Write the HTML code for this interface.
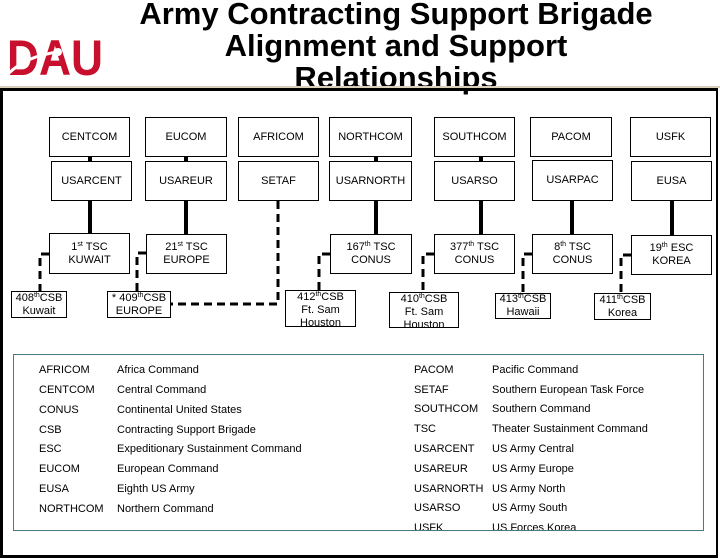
<!DOCTYPE html>
<html><head><meta charset="utf-8"><style>
*{margin:0;padding:0;box-sizing:border-box}
body{width:720px;height:540px;overflow:hidden;background:#fff;position:relative;font-family:"Liberation Sans",Arial,sans-serif}
.t{position:absolute;left:96px;width:600px;text-align:center;font-size:31px;font-weight:bold;line-height:32px;color:#000;white-space:nowrap}
.b{position:absolute;border:1px solid #000;background:#fff;display:flex;align-items:center;justify-content:center;text-align:center;font-size:11px;line-height:13px;color:#000}
.s{position:absolute;background:#000}
.l{position:absolute;font-size:11px;color:#000;line-height:13px}
sup{font-size:7px;vertical-align:top;line-height:7px}
</style></head><body>
<div class="t" style="top:-2px">Army Contracting Support Brigade</div>
<div class="t" style="top:30px">Alignment and Support</div>
<div class="t" style="top:62px">Relationships</div>
<svg style="position:absolute;left:6px;top:36px" width="100" height="42">
<text x="1" y="39" font-family="Liberation Sans" font-weight="bold" font-size="50" fill="#c8102e" textLength="96" lengthAdjust="spacingAndGlyphs">DAU</text>
<path d="M2 38 Q20 20 52 16" stroke="#fff" stroke-width="3" fill="none"/>
<circle cx="52" cy="16" r="4" fill="#fff"/>
</svg>
<div style="position:absolute;left:0;top:86px;width:720px;height:2px;background:#d8d0b8"></div>
<div style="position:absolute;left:0;top:88px;width:718px;height:470px;border:3px solid #000;border-right-width:2px"></div>

<svg style="position:absolute;left:0;top:0" width="720" height="540">
<g stroke="#000" stroke-width="4" fill="none">
<line x1="90" y1="157" x2="90" y2="161"/><line x1="186" y1="157" x2="186" y2="161"/>
<line x1="376" y1="157" x2="376" y2="161"/><line x1="481" y1="157" x2="481" y2="161"/>
<line x1="90" y1="201" x2="90" y2="234"/><line x1="186" y1="201" x2="186" y2="234"/>
<line x1="376" y1="201" x2="376" y2="234"/><line x1="481" y1="201" x2="481" y2="234"/>
<line x1="572" y1="201" x2="572" y2="234"/><line x1="672" y1="201" x2="672" y2="235"/>
</g>
<g stroke="#000" stroke-width="3" fill="none" stroke-dasharray="8,5">
<polyline points="49,254 40,254 40,291"/>
<polyline points="146,253 137,253 137,291"/>
<polyline points="278,201 278,304 171,304"/>
<polyline points="330,254 319,254 319,290"/>
<polyline points="434,254 423,254 423,292"/>
<polyline points="532,254 523,254 523,293"/>
<polyline points="631,255 621,255 621,293"/>
</g>
</svg>

<div class="b" style="left:49px;top:117px;width:81px;height:40px"><span>CENTCOM</span></div>
<div class="b" style="left:145px;top:117px;width:82px;height:40px"><span>EUCOM</span></div>
<div class="b" style="left:238px;top:117px;width:81px;height:40px"><span>AFRICOM</span></div>
<div class="b" style="left:329px;top:117px;width:83px;height:40px"><span>NORTHCOM</span></div>
<div class="b" style="left:434px;top:117px;width:81px;height:40px"><span>SOUTHCOM</span></div>
<div class="b" style="left:530px;top:117px;width:82px;height:40px"><span>PACOM</span></div>
<div class="b" style="left:630px;top:117px;width:81px;height:40px"><span>USFK</span></div>

<div class="b" style="left:51px;top:161px;width:81px;height:40px"><span>USARCENT</span></div>
<div class="b" style="left:145px;top:161px;width:82px;height:40px"><span>USAREUR</span></div>
<div class="b" style="left:238px;top:161px;width:81px;height:40px"><span>SETAF</span></div>
<div class="b" style="left:329px;top:161px;width:83px;height:40px"><span>USARNORTH</span></div>
<div class="b" style="left:434px;top:161px;width:81px;height:40px"><span>USARSO</span></div>
<div class="b" style="left:532px;top:160px;width:81px;height:41px"><span>USARPAC</span></div>
<div class="b" style="left:631px;top:161px;width:81px;height:40px"><span>EUSA</span></div>

<div class="b" style="left:49px;top:233px;width:81px;height:41px"><span>1<sup>st</sup> TSC<br>KUWAIT</span></div>
<div class="b" style="left:146px;top:234px;width:81px;height:40px"><span>21<sup>st</sup> TSC<br>EUROPE</span></div>
<div class="b" style="left:330px;top:234px;width:82px;height:40px"><span>167<sup>th</sup> TSC<br>CONUS</span></div>
<div class="b" style="left:434px;top:234px;width:81px;height:40px"><span>377<sup>th</sup> TSC<br>CONUS</span></div>
<div class="b" style="left:532px;top:234px;width:81px;height:40px"><span>8<sup>th</sup> TSC<br>CONUS</span></div>
<div class="b" style="left:631px;top:235px;width:81px;height:40px"><span>19<sup>th</sup> ESC<br>KOREA</span></div>

<div class="b" style="left:11px;top:291px;width:56px;height:27px"><span>408<sup>th</sup>CSB<br>Kuwait</span></div>
<div class="b" style="left:107px;top:291px;width:64px;height:27px"><span>* 409<sup>th</sup>CSB<br>EUROPE</span></div>
<div class="b" style="left:285px;top:290px;width:71px;height:37px;align-items:flex-start"><span>412<sup>th</sup>CSB<br>Ft. Sam<br>Houston</span></div>
<div class="b" style="left:389px;top:292px;width:70px;height:36px;align-items:flex-start"><span>410<sup>th</sup>CSB<br>Ft. Sam<br>Houston</span></div>
<div class="b" style="left:495px;top:293px;width:56px;height:26px"><span>413<sup>th</sup>CSB<br>Hawaii</span></div>
<div class="b" style="left:594px;top:293px;width:57px;height:27px"><span>411<sup>th</sup>CSB<br>Korea</span></div>

<div style="position:absolute;left:13px;top:354px;width:691px;height:177px;border:1px solid #4a7a80;overflow:hidden">
<div class="l" style="left:25px;top:9px">AFRICOM</div><div class="l" style="left:103px;top:9px">Africa Command</div>
<div class="l" style="left:25px;top:29px">CENTCOM</div><div class="l" style="left:103px;top:29px">Central Command</div>
<div class="l" style="left:25px;top:49px">CONUS</div><div class="l" style="left:103px;top:49px">Continental United States</div>
<div class="l" style="left:25px;top:69px">CSB</div><div class="l" style="left:103px;top:69px">Contracting Support Brigade</div>
<div class="l" style="left:25px;top:88px">ESC</div><div class="l" style="left:103px;top:88px">Expeditionary Sustainment Command</div>
<div class="l" style="left:25px;top:108px">EUCOM</div><div class="l" style="left:103px;top:108px">European Command</div>
<div class="l" style="left:25px;top:128px">EUSA</div><div class="l" style="left:103px;top:128px">Eighth US Army</div>
<div class="l" style="left:25px;top:148px">NORTHCOM</div><div class="l" style="left:103px;top:148px">Northern Command</div>

<div class="l" style="left:400px;top:9px">PACOM</div><div class="l" style="left:478px;top:9px">Pacific Command</div>
<div class="l" style="left:400px;top:29px">SETAF</div><div class="l" style="left:478px;top:29px">Southern European Task Force</div>
<div class="l" style="left:400px;top:48px">SOUTHCOM</div><div class="l" style="left:478px;top:48px">Southern Command</div>
<div class="l" style="left:400px;top:68px">TSC</div><div class="l" style="left:478px;top:68px">Theater Sustainment Command</div>
<div class="l" style="left:400px;top:88px">USARCENT</div><div class="l" style="left:478px;top:88px">US Army Central</div>
<div class="l" style="left:400px;top:108px">USAREUR</div><div class="l" style="left:478px;top:108px">US Army Europe</div>
<div class="l" style="left:400px;top:128px">USARNORTH</div><div class="l" style="left:478px;top:128px">US Army North</div>
<div class="l" style="left:400px;top:147px">USARSO</div><div class="l" style="left:478px;top:147px">US Army South</div>
<div class="l" style="left:400px;top:167px">USFK</div><div class="l" style="left:478px;top:167px">US Forces Korea</div>
</div>
</body></html>
